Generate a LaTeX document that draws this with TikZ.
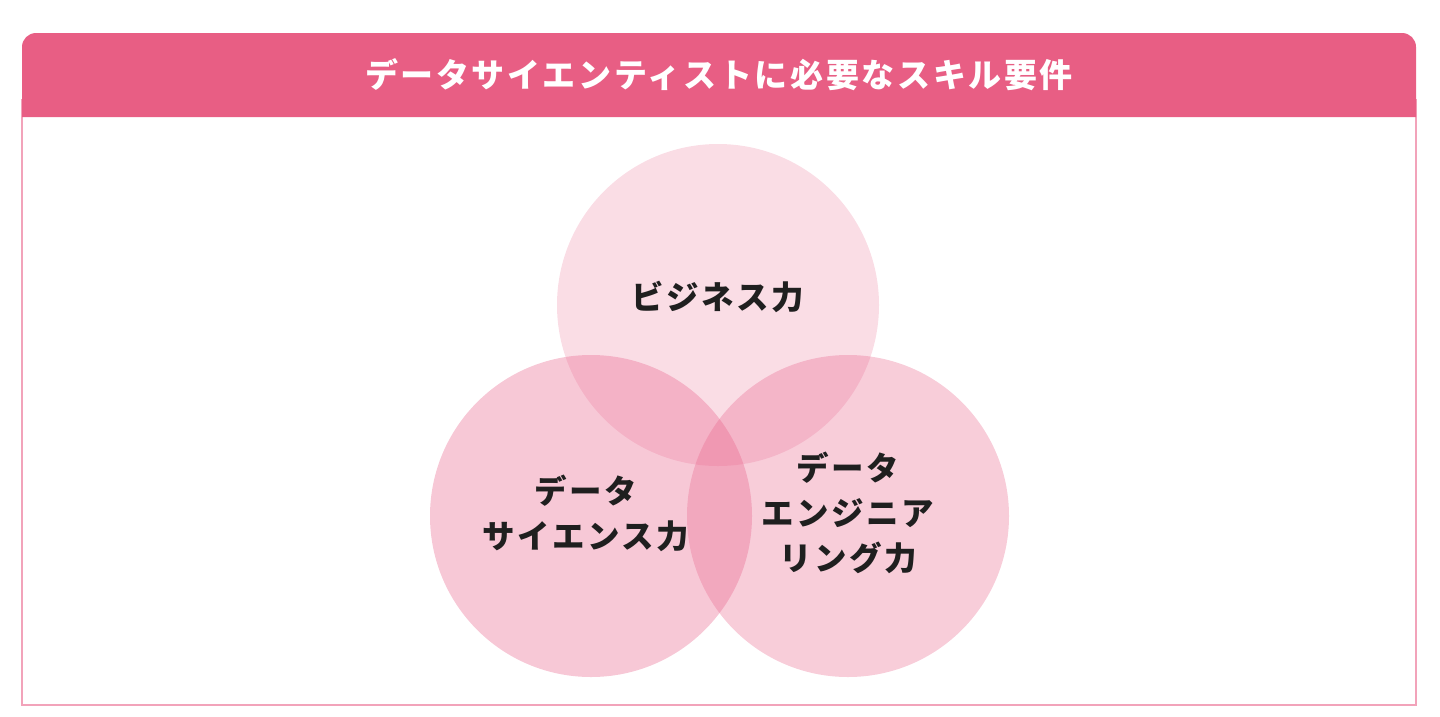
\documentclass[tikz,border=0pt]{standalone}
\usepackage{fontspec}
\newfontfamily\cjk{Noto Sans CJK JP}[LetterSpace=8]
\definecolor{hdr}{HTML}{E85E84}
\definecolor{frm}{HTML}{F2A3BA}
\definecolor{petal}{HTML}{E8628A}
\begin{document}
\begin{tikzpicture}[x=1pt,y=-1pt,
  frame/.style={draw=frm,line width=2.6pt},
  header/.style={fill=hdr},
  venn/.style={circle,fill=petal,inner sep=0pt,minimum size=322pt},
  lbl/.style={font=\cjk\bfseries\fontsize{32.5}{45}\selectfont,align=center,text=black!88},
  title/.style={font=\cjk\bfseries\fontsize{33}{38}\selectfont,text=white}]
\useasboundingbox (0,0) rectangle (1440,716);
\draw[frame] (22,100) rectangle (1416,705);
\fill[header] (22,117) [rounded corners=14pt] -- (22,33) -- (1416,33) [sharp corners] -- (1416,117) -- cycle;
\node[title] (ttl) at (719,75) {データサイエンティストに必要なスキル要件};
\node[venn,fill opacity=0.22] (biz) at (718,305) {};
\node[venn,fill opacity=0.35] (sci) at (591,516) {};
\node[venn,fill opacity=0.32] (eng) at (848,516) {};
\node[lbl] (bizt) at (718,297) {ビジネス力};
\node[lbl] (scit) at (586,513) {データ\\サイエンス力};
\node[lbl] (engt) at (848,513) {データ\\エンジニア\\リング力};
\end{tikzpicture}
\end{document}
